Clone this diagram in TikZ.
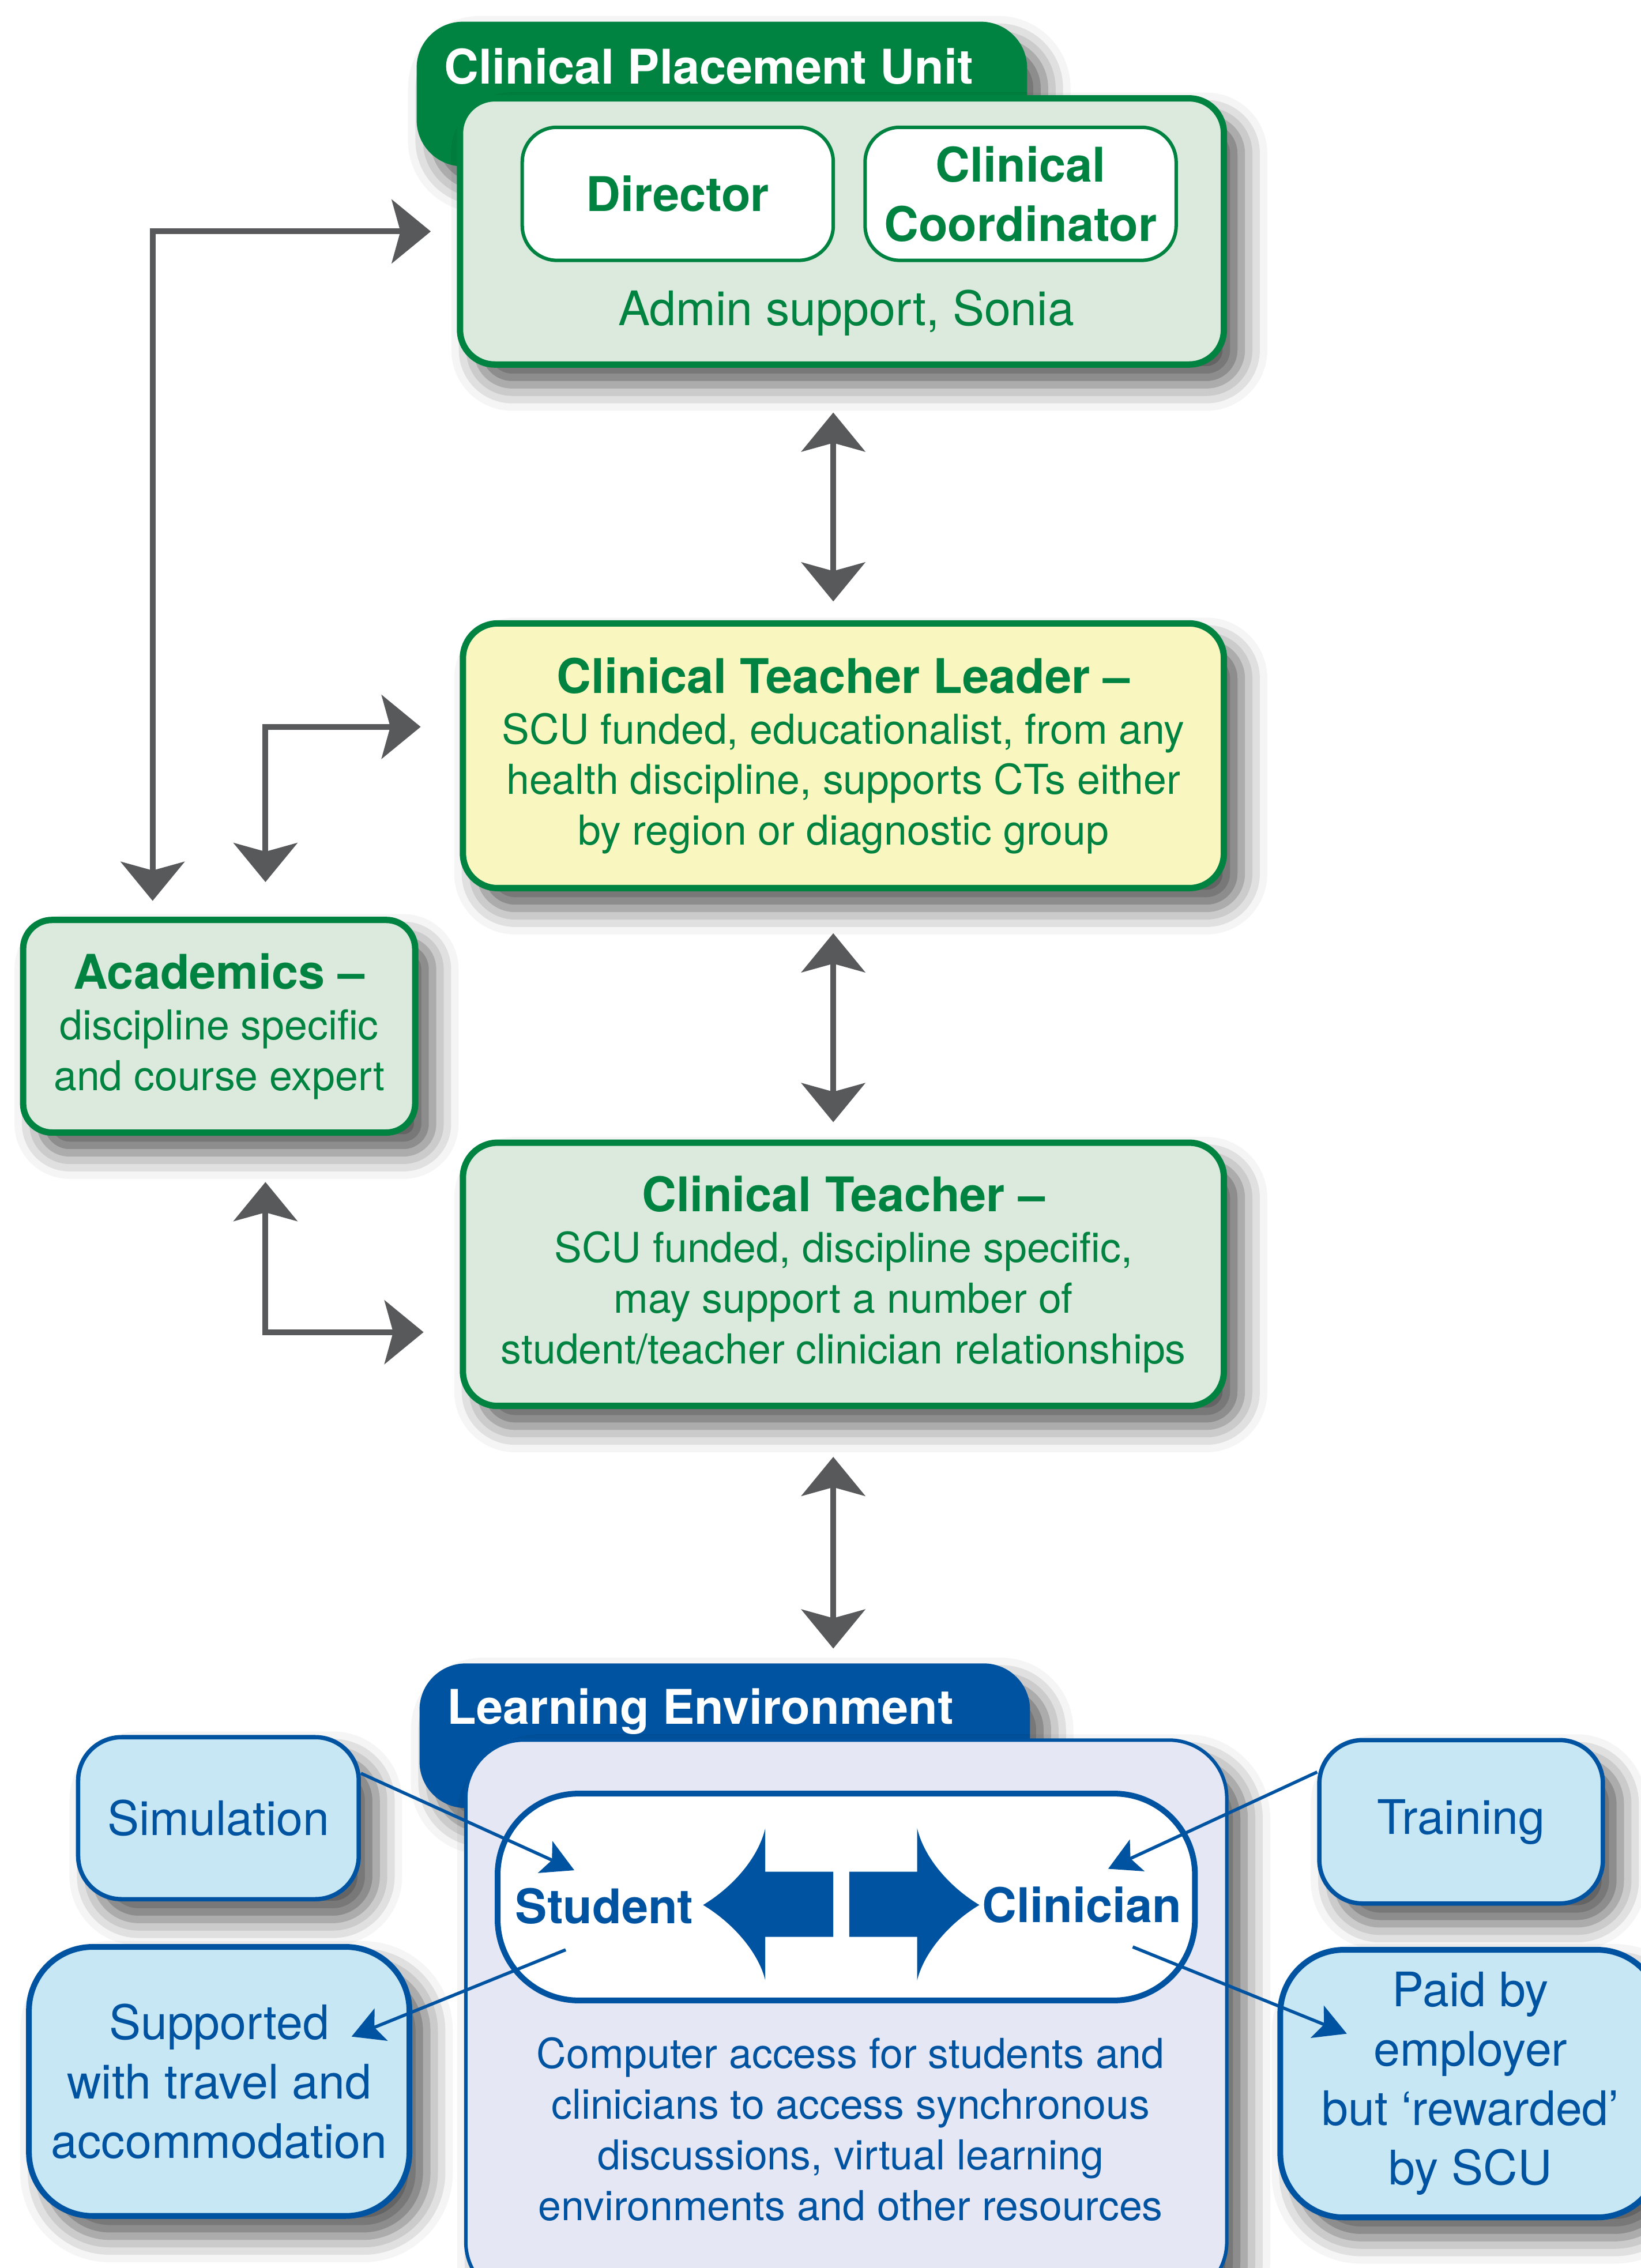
\documentclass[tikz,border=0pt]{standalone}
\usepackage{fontspec}
\setmainfont{TeX Gyre Heros}
\usetikzlibrary{arrows.meta,shadows.blur}
\definecolor{scugreen}{RGB}{0,130,64}
\definecolor{palegreen}{RGB}{219,234,220}
\definecolor{paleyellow}{RGB}{250,246,192}
\definecolor{scublue}{RGB}{0,83,160}
\definecolor{paleblue}{RGB}{199,231,244}
\definecolor{palelilac}{RGB}{229,232,244}
\definecolor{arrowgrey}{RGB}{88,89,91}
\newcommand\ttlfont{\fontsize{23.5}{29.2}\selectfont\bfseries}
\newcommand\bodyfont{\fontsize{20.3}{24.9}\selectfont}
\newcommand\midfont{\fontsize{23.4}{29.2}\selectfont}
\begin{document}
\begin{tikzpicture}[x=0.25mm,y=-0.25mm,
  softshadow/.style={blur shadow={shadow xshift=3mm,shadow yshift=-3.5mm,shadow blur radius=4.5mm,shadow opacity=65}},
  gbox/.style={draw=scugreen,line width=1.1mm,fill=palegreen,rounded corners=6mm,text=scugreen,align=center,inner sep=0pt,font=\bodyfont,softshadow},
  wbox/.style={draw=scugreen,line width=0.6mm,fill=white,rounded corners=6mm,text=scugreen,align=center,inner sep=0pt,font=\ttlfont},
  bbox/.style={draw=scublue,line width=0.9mm,fill=paleblue,text=scublue,align=center,inner sep=0pt,font=\midfont,softshadow},
  tabshape/.style={rounded corners=8mm,softshadow},
  tabtext/.style={text=white,font=\ttlfont,inner sep=0pt,anchor=base west},
  gtip/.tip={Stealth[length=6.75mm,width=11mm,inset=1.5mm]},
  btip/.tip={Stealth[length=5.5mm,width=6mm,inset=1.25mm]},
  garrow/.style={draw=arrowgrey,line width=1mm,gtip-gtip},
  barrow/.style={draw=scublue,line width=0.55mm,-btip}]
\useasboundingbox(0,0)rectangle(1134,1568);
\node[tabshape,fill=scugreen,minimum width=105.5mm,minimum height=25mm](cputab)at(499,65){};
\node[tabtext](cputitle)at(307,58){Clinical Placement Unit};
\node[gbox,minimum width=132mm,minimum height=46mm](cpu)at(582,160){};
\node[wbox,minimum width=53.75mm,minimum height=23mm](dir)at(468.5,134){Director};
\node[wbox,minimum width=53.75mm,minimum height=23mm](coord)at(705.5,134){Clinical\\Coordinator};
\node[text=scugreen,font=\midfont,anchor=base,inner sep=0pt](admin)at(585,225){Admin support, Sonia};
\node[gbox,fill=paleyellow,minimum width=131.5mm,minimum height=45.75mm](ctl)at(583,522.5){{\ttlfont Clinical Teacher Leader –}\\SCU funded, educationalist, from any\\health discipline, supports CTs either\\by region or diagnostic group};
\node[gbox,minimum width=131.5mm,minimum height=45.5mm](ct)at(583,881){{\ttlfont Clinical Teacher –}\\SCU funded, discipline specific,\\may support a number of\\student/teacher clinician relationships};
\node[gbox,minimum width=67.75mm,minimum height=36.75mm,rounded corners=5mm](acad)at(151.5,709.5){{\ttlfont Academics –}\\discipline specific\\and course expert};
\draw[garrow]([xshift=-4.5mm]cpu.west)-|([shift={(-46,-11)}]acad.north);
\draw[garrow]([shift={(-27,-20)}]ctl.west)-|([shift={(32,-24)}]acad.north);
\draw[garrow]([shift={(32,32)}]acad.south)|-([shift={(-25,40)}]ct.west);
\draw[garrow]([shift={(-6,31)}]cpu.south)--([shift={(-7,-13)}]ctl.north);
\draw[garrow]([shift={(-7,29)}]ctl.south)--([shift={(-7,-12)}]ct.north);
\node[tabshape,fill=scublue,minimum width=105.5mm,minimum height=25mm](letab)at(501,1200){};
\draw[garrow]([shift={(-7,33)}]ct.south)--([shift={(75,-10)}]letab.north);
\node[tabtext](letitle)at(309,1192){Learning Environment};
\node[draw=scublue,line width=0.6mm,fill=palelilac,rounded corners=10mm,minimum width=131.5mm,minimum height=96.75mm,softshadow](le)at(585,1396.5){};
\node[draw=scublue,line width=1mm,fill=white,rounded corners=14mm,minimum width=120.5mm,minimum height=35.75mm](pair)at(585,1311.5){};
\node[text=scublue,font=\ttlfont,anchor=base west,inner sep=0pt](student)at(356,1330){Student};
\node[text=scublue,font=\ttlfont,anchor=base east,inner sep=0pt](clinician)at(817,1329){Clinician};
\fill[scublue](486,1317)..controls(506,1305)and(524,1285)..(529,1264)--(529,1294)--(576,1294)--(576,1339)--(529,1339)--(529,1369)..controls(524,1349)and(506,1329)..(486,1317)--cycle;
\fill[scublue](677,1317)..controls(657,1305)and(639,1285)..(634,1264)--(634,1294)--(587,1294)--(587,1339)--(634,1339)--(634,1369)..controls(639,1349)and(657,1329)..(677,1317)--cycle;
\node[text=scublue,font=\bodyfont,align=center,inner sep=0pt](access)at(588,1472){Computer access for students and\\clinicians to access synchronous\\discussions, virtual learning\\environments and other resources};
\node[bbox,line width=0.75mm,rounded corners=7.5mm,minimum width=48.5mm,minimum height=28mm](sim)at(151,1257){Simulation};
\node[bbox,line width=1mm,rounded corners=11mm,minimum width=65.75mm,minimum height=46.5mm](supp)at(151.5,1439){Supported\\with travel and\\accommodation};
\node[bbox,line width=0.75mm,rounded corners=7.5mm,minimum width=49mm,minimum height=28.25mm](train)at(1010,1259.5){Training};
\node[bbox,line width=1mm,rounded corners=11mm,minimum width=65.75mm,minimum height=46.25mm](paid)at(1016.5,1440.5){Paid by\\employer\\but ‘rewarded’\\by SCU};
\draw[barrow]([yshift=7.75mm]sim.east)--([shift={(55,-18.5)}]pair.west);
\draw[barrow]([yshift=8.6mm]train.west)--([shift={(-62,-19.5)}]pair.east);
\draw[barrow]([shift={(49,-37)}]pair.south west)--([shift={(-42,-31)}]supp.east);
\draw[barrow]([shift={(-45,-39)}]pair.south east)--([shift={(48,-34.5)}]paid.west);
\end{tikzpicture}
\end{document}
